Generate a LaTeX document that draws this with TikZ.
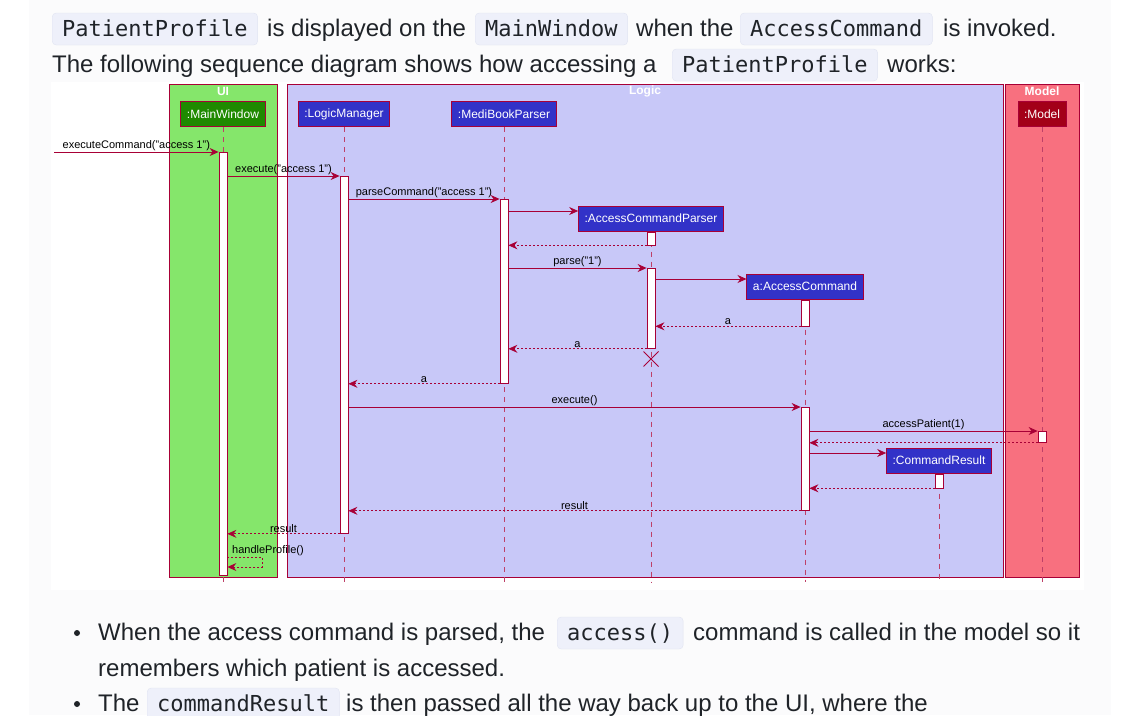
\documentclass[tikz,border=0pt]{standalone}
\usepackage{fontspec}
\setmainfont{Liberation Sans}
\newfontfamily\codefont{DejaVu Sans Mono}
\usetikzlibrary{arrows.meta,shapes.misc}
\definecolor{umlred}{HTML}{A80036}
\definecolor{uiframe}{HTML}{85E66B}
\definecolor{logicframe}{HTML}{C8C8F8}
\definecolor{modelframe}{HTML}{F8707F}
\definecolor{uiblock}{HTML}{1F8A00}
\definecolor{logicblock}{HTML}{3232C8}
\definecolor{modelblock}{HTML}{A30018}
\definecolor{codebg}{HTML}{EEF0FA}
\definecolor{codeline}{HTML}{E1E4F2}
\definecolor{pagebg}{HTML}{FBFBFC}
\definecolor{inktext}{HTML}{1F2328}

\begin{document}
\begin{tikzpicture}[x=1pt,y=-1pt]
    \tikzstyle{frame}=[draw=umlred, line width=0.8pt]
    \tikzstyle{frametitle}=[text=white, font=\fontsize{12}{12}\selectfont\bfseries, inner sep=0pt]
    \tikzstyle{block}=[draw=umlred, line width=1pt, text=white, font=\fontsize{12}{12}\selectfont, minimum height=25pt, inner xsep=6pt]
    \tikzstyle{life}=[draw=umlred!75, line width=0.8pt, dash pattern=on 5pt off 5pt]
    \tikzstyle{bar}=[draw=umlred, fill=white, line width=0.8pt, minimum width=8pt, inner sep=0pt, anchor=north]
    \tikzstyle{call}=[draw=umlred, line width=0.8pt, -{Stealth[length=9pt,width=8pt,inset=3pt]}]
    \tikzstyle{reply}=[call, dash pattern=on 2pt off 2pt]
    \tikzstyle{msg}=[font=\fontsize{11}{11}\selectfont, text=black, inner sep=1pt, above]
    \tikzstyle{prose}=[font=\fontsize{24}{24}\selectfont, text=inktext, inner sep=0pt, anchor=base west]
    \tikzstyle{code}=[font=\codefont\fontsize{22}{22}\selectfont, text=inktext, fill=codebg, draw=codeline, rounded corners=4pt, inner xsep=10pt, inner ysep=8pt, text height=15pt, text depth=1pt, anchor=base west]
    \tikzstyle{dot}=[circle, fill=inktext, inner sep=0pt, minimum size=6pt]
    \useasboundingbox (0,0) rectangle (1142,715);
    \fill[white] (0,0) rectangle (1142,715);
    \fill[pagebg] (29,0) rectangle (1111,715);
    \fill[white] (51,82) rectangle (1084,590);
    \draw[frame, fill=uiframe] (169,84) rectangle (277,577);
    \draw[frame, fill=logicframe] (287,84) rectangle (1003,577);
    \draw[frame, fill=modelframe] (1005,84) rectangle (1079,577);
    \node[frametitle] (uititle) at (223,91) {UI};
    \node[frametitle] (logictitle) at (645,91) {Logic};
    \node[frametitle] (modeltitle) at (1042,91) {Model};
    \node[block, fill=uiblock] (mainwindow) at (223,114) {:MainWindow};
    \node[block, fill=logicblock] (logicmanager) at (344,114) {:LogicManager};
    \node[block, fill=logicblock] (parser) at (504,114) {:MediBookParser};
    \node[block, fill=modelblock] (model) at (1042,114) {:Model};
    \node[block, fill=logicblock] (acp) at (651,218.5) {:AccessCommandParser};
    \node[block, fill=logicblock] (ac) at (805,286.5) {a:AccessCommand};
    \node[block, fill=logicblock] (cr) at (939,460.5) {:CommandResult};
    \draw[life] (mainwindow.south) -- (mainwindow.south |- 0,582);
    \draw[life] (logicmanager.south) -- (logicmanager.south |- 0,582);
    \draw[life] (parser.south) -- (parser.south |- 0,582);
    \draw[life] (model.south) -- (model.south |- 0,582);
    \draw[life] (acp.south) -- (acp.south |- 0,582);
    \draw[life] (ac.south) -- (ac.south |- 0,582);
    \draw[life] (cr.south) -- (cr.south |- 0,582);
    \node[bar, minimum height=423pt] (mwbar) at (mainwindow |- 0,152) {};
    \node[bar, minimum height=357pt] (lmbar) at (logicmanager |- 0,176) {};
    \node[bar, minimum height=184pt] (mbpbar) at (parser |- 0,199) {};
    \node[bar, minimum height=13pt] (acpbar) at (acp.south) {};
    \node[bar, minimum height=80pt] (acpbarb) at (acp |- 0,268) {};
    \node[bar, minimum height=26pt] (acbar) at (ac.south) {};
    \node[bar, minimum height=103pt] (acbarb) at (ac |- 0,407) {};
    \node[bar, minimum height=11pt] (modelbar) at (model |- 0,431) {};
    \node[bar, minimum height=14pt] (crbar) at (cr.south) {};
    \coordinate (caller) at (54,152);
    \draw[call] (caller) -- (mwbar.north west) node[msg, midway] {executeCommand("access 1")};
    \draw[call] (mwbar.east |- lmbar.north) -- (lmbar.north west) node[msg, midway] {execute("access 1")};
    \draw[call] (lmbar.east |- mbpbar.north) -- (mbpbar.north west) node[msg, midway] {parseCommand("access 1")};
    \draw[call] (mbpbar.east |- 0,211) -- (acp.west |- 0,211);
    \draw[reply] (acpbar.south west) -- (mbpbar.east |- acpbar.south);
    \draw[call] (mbpbar.east |- acpbarb.north) -- (acpbarb.north west) node[msg, midway] {parse("1")};
    \draw[call] (acpbarb.east |- 0,279) -- (ac.west |- 0,279);
    \draw[reply] (acbar.south west) -- (acpbarb.east |- acbar.south) node[msg, midway] {a};
    \draw[reply] (acpbarb.south west) -- (mbpbar.east |- acpbarb.south) node[msg, midway] {a};
    \node[cross out, draw=umlred, line width=1pt, minimum size=14pt, inner sep=0pt] (acpend) at (acp |- 0,359) {};
    \draw[reply] (mbpbar.south west) -- (lmbar.east |- mbpbar.south) node[msg, midway] {a};
    \draw[call] (lmbar.east |- acbarb.north) -- (acbarb.north west) node[msg, midway] {execute()};
    \draw[call] (acbarb.east |- modelbar.north) -- (modelbar.north west) node[msg, midway] {accessPatient(1)};
    \draw[reply] (modelbar.south west) -- (acbarb.east |- modelbar.south);
    \draw[call] (acbarb.east |- 0,453) -- (cr.west |- 0,453);
    \draw[reply] (crbar.south west) -- (acbarb.east |- crbar.south);
    \draw[reply] (acbarb.south west) -- (lmbar.east |- acbarb.south) node[msg, midway] {result};
    \draw[reply] (lmbar.south west) -- (mwbar.east |- lmbar.south) node[msg, midway] {result};
    \draw[reply] (mwbar.east |- 0,557) -- ++(35,0) -- ++(0,10) -- (mwbar.east |- 0,567);
    \node[msg, anchor=south west] (hplabel) at (231,556.5) {handleProfile()};
    \node[code] (ppcode) at (52,36) {PatientProfile};
    \node[prose] (lineone) at (267,36) {is displayed on the};
    \node[code] (mwcode) at (475,36) {MainWindow};
    \node[prose] (linetwo) at (636,36) {when the};
    \node[code] (accode) at (740,36) {AccessCommand};
    \node[prose] (linethree) at (943,36) {is invoked.};
    \node[prose] (linefour) at (52,72) {The following sequence diagram shows how accessing a};
    \node[code] (ppcodeb) at (672,72) {PatientProfile};
    \node[prose] (linefive) at (887,72) {works:};
    \node[dot] (dotone) at (77,633) {};
    \node[prose] (linesix) at (98,640) {When the access command is parsed, the};
    \node[code] (accesscode) at (557,640) {access()};
    \node[prose] (lineseven) at (693,640) {command is called in the model so it};
    \node[prose] (lineeight) at (98,676) {remembers which patient is accessed.};
    \node[dot] (dottwo) at (77,704) {};
    \node[prose] (linenine) at (98,711) {The};
    \node[code] (crcode) at (147,711) {commandResult};
    \node[prose] (lineten) at (346,711) {is then passed all the way back up to the UI, where the};
\end{tikzpicture}
\end{document}
